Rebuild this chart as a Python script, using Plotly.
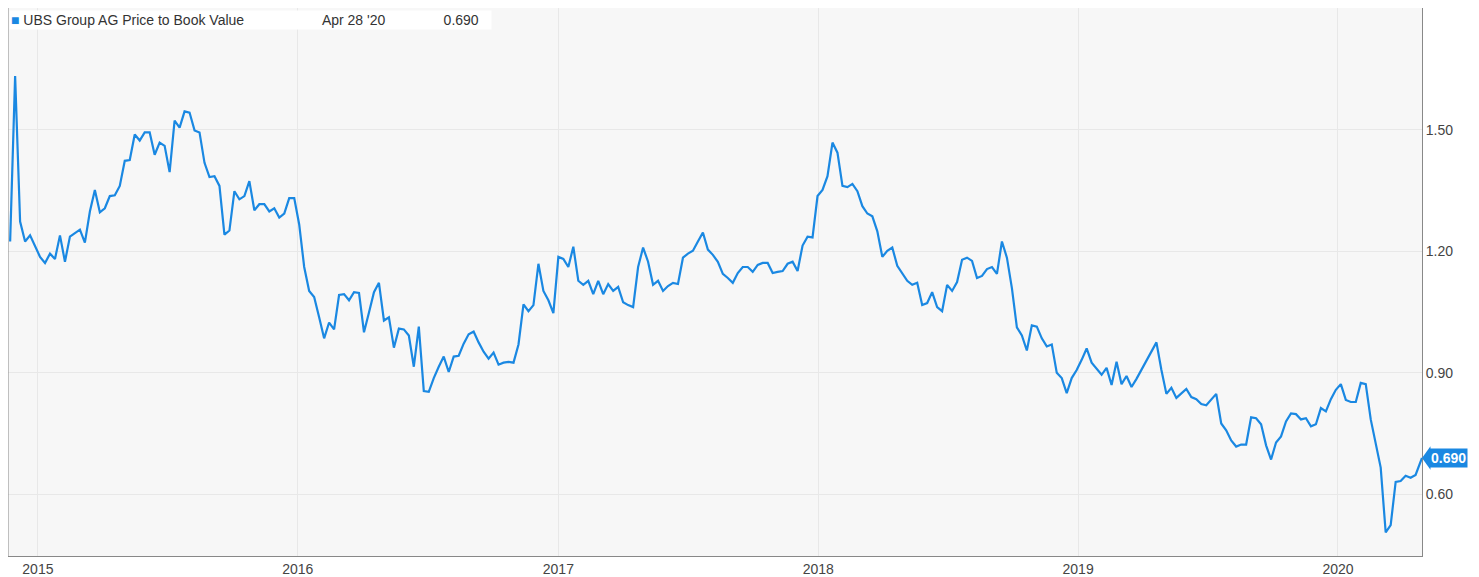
import pandas as pd
import plotly.graph_objects as go

# weekly price-to-book readings, week numbers counted from the first observation
start = pd.Timestamp("2014-11-23")

weeks_a = [0, 1, 2, 3, 4, 6, 7, 8, 9, 10, 11, 12, 14, 15] + list(range(16, 99))
vals_a = [1.224, 1.632, 1.273, 1.224, 1.239, 1.186, 1.171, 1.194, 1.181, 1.239, 1.174, 1.236, 1.253, 1.221,
          1.298, 1.351, 1.296, 1.306, 1.336, 1.338, 1.361, 1.423, 1.425, 1.488,
          1.473, 1.493, 1.493, 1.438, 1.468, 1.460, 1.395, 1.522, 1.505, 1.545,
          1.542, 1.498, 1.493, 1.418, 1.383, 1.385, 1.361, 1.241, 1.251, 1.348,
          1.328, 1.336, 1.373, 1.301, 1.316, 1.316, 1.298, 1.306, 1.283, 1.293,
          1.331, 1.331, 1.266, 1.161, 1.102, 1.087, 1.037, 0.985, 1.024, 1.007,
          1.092, 1.094, 1.079, 1.099, 1.097, 1.000, 1.049, 1.099, 1.122, 1.029,
          1.037, 0.962, 1.009, 1.007, 0.992, 0.915, 1.014, 0.855, 0.853, 0.887,
          0.915, 0.940, 0.902, 0.940, 0.942, 0.972, 0.995, 1.002, 0.975, 0.952,
          0.935, 0.950, 0.920]

weeks_b = list(range(99, 195))
vals_b = [0.925, 0.927, 0.925, 0.970, 1.069, 1.052, 1.067, 1.169, 1.102, 1.079,
          1.047, 1.186, 1.181, 1.161, 1.211, 1.127, 1.117, 1.127, 1.094, 1.127,
          1.094, 1.119, 1.102, 1.112, 1.074, 1.067, 1.062, 1.161, 1.209, 1.174,
          1.117, 1.127, 1.102, 1.114, 1.122, 1.119, 1.184, 1.194, 1.201, 1.224,
          1.246, 1.204, 1.191, 1.174, 1.144, 1.134, 1.122, 1.146, 1.161, 1.161,
          1.149, 1.166, 1.171, 1.171, 1.146, 1.149, 1.151, 1.169, 1.174, 1.151,
          1.214, 1.236, 1.234, 1.336, 1.351, 1.385, 1.468, 1.443, 1.361, 1.358,
          1.366, 1.348, 1.311, 1.293, 1.286, 1.249, 1.186, 1.201, 1.209, 1.164,
          1.146, 1.127, 1.117, 1.122, 1.067, 1.072, 1.099, 1.062, 1.052, 1.117,
          1.102, 1.124, 1.179, 1.184, 1.176, 1.134]

weeks_c = list(range(195, 227))
vals_c = [1.139, 1.156, 1.161, 1.144, 1.224, 1.184, 1.109, 1.012, 0.992, 0.955,
          1.017, 1.014, 0.985, 0.965, 0.970, 0.900, 0.887,
          0.850, 0.887, 0.907, 0.932, 0.960, 0.925, 0.910, 0.895, 0.912, 0.870,
          0.927, 0.872, 0.892, 0.865, 0.885]

weeks_d = [230, 231, 232, 233, 234, 236, 237, 238, 239, 240, 242]
vals_d = [0.975, 0.907, 0.848, 0.863, 0.838, 0.860, 0.840, 0.835, 0.823, 0.820, 0.848]

weeks_e = list(range(243, 274))
vals_e = [0.775, 0.758, 0.733, 0.718, 0.723, 0.723, 0.790, 0.788, 0.773, 0.721,
          0.686, 0.728, 0.743, 0.780, 0.800, 0.798, 0.785, 0.788, 0.768, 0.773,
          0.813, 0.805, 0.835, 0.858, 0.872, 0.833, 0.828, 0.828, 0.875, 0.872,
          0.785]

weeks_f = [275, 276, 277, 278, 279, 280, 281, 282]
vals_f = [0.666, 0.506, 0.524, 0.631, 0.633, 0.646, 0.641, 0.648]

last_date = "2020-04-28"
last_val = 0.690

weeks = weeks_a + weeks_b + weeks_c + weeks_d + weeks_e + weeks_f
values = vals_a + vals_b + vals_c + vals_d + vals_e + vals_f + [last_val]
dates = [start + pd.Timedelta(weeks=w) for w in weeks] + [pd.Timestamp(last_date)]

blue = "#1a88e2"

fig = go.Figure(go.Scatter(x=dates, y=values, mode="lines",
                           line=dict(color=blue, width=2.2), hoverinfo="x+y"))

# page body has an 8px margin, so the figure is sized to fit inside it
fig.update_layout(
    width=1471, height=569,
    margin=dict(l=0, r=57, t=0, b=21),
    paper_bgcolor="white", plot_bgcolor="#f7f7f7",
    showlegend=False,
    font=dict(family="Liberation Sans, Arial", size=14, color="#444"),
    xaxis=dict(range=["2014-11-20", last_date], showgrid=True, gridcolor="#e8e8e8",
               dtick="M12", tick0="2015-01-01", tickformat="%Y", ticks="",
               showline=True, linecolor="#888", mirror=False, zeroline=False),
    yaxis=dict(range=[0.448, 1.80], side="right", tickvals=[0.60, 0.90, 1.20, 1.50],
               tickformat=".2f", showgrid=True, gridcolor="#e8e8e8", ticks="",
               showline=True, linecolor="#888", zeroline=False),
    shapes=[dict(type="line", xref="paper", yref="paper", x0=0, x1=0, y0=0, y1=1,
                 line=dict(color="#888", width=1))],
    annotations=[
        dict(xref="paper", yref="paper", x=0.001, y=0.997, xanchor="left", yanchor="top",
             text="<span style='color:%s'>■</span> UBS Group AG Price to Book Value" % blue
                  + "&nbsp;" * 20 + "Apr 28 '20" + "&nbsp;" * 15 + "0.690" + "&nbsp;" * 3,
             showarrow=False, bgcolor="white", font=dict(size=14, color="#333")),
        dict(xref="paper", yref="y", x=1.0, y=last_val, xanchor="left", xshift=7,
             text="<b>0.690</b>", showarrow=False, bgcolor=blue,
             font=dict(size=14, color="white"), borderpad=1),
    ],
)
fig.add_shape(type="path", xref="paper", yref="y",
              path="M 1.0 0.690 L 1.006 0.719 L 1.006 0.661 Z",
              fillcolor=blue, line=dict(width=0))

fig.write_html("out.html")
